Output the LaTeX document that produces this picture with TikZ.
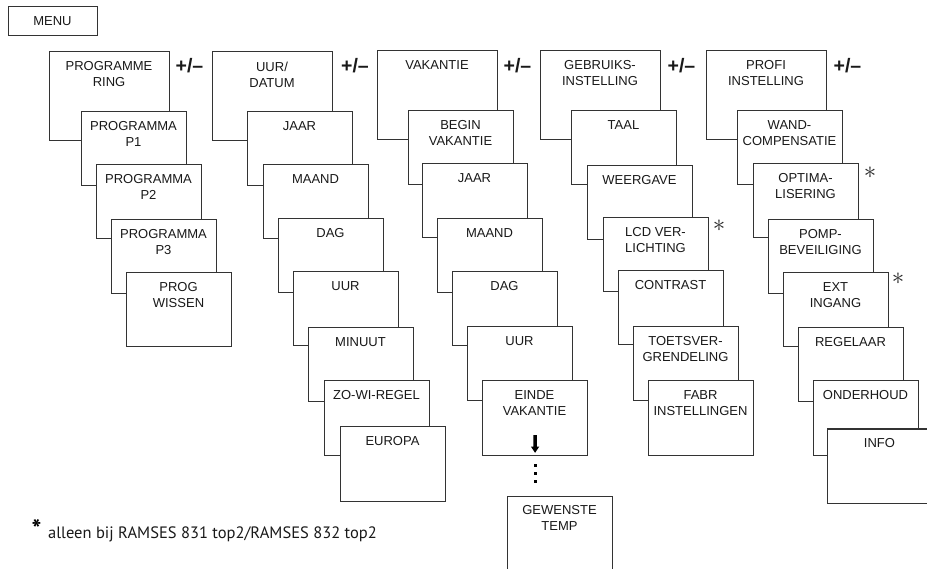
\documentclass[tikz,border=0pt]{standalone}
\usepackage{fontspec}
\setmainfont{Liberation Sans}
\newfontfamily\fnfont{PT Sans}
\usetikzlibrary{calc}
\tikzset{
  frame/.style={draw=black!80, line width=1pt, fill=white, anchor=north west, inner sep=0pt, outer sep=0pt},
  topb/.style={frame, minimum width=120pt, minimum height=89pt},
  subb/.style={frame, minimum width=105pt, minimum height=74pt},
  lbl/.style={inner sep=0pt, anchor=north, align=center, text=black!90, font=\fontsize{13}{16}\selectfont},
  pm/.style={inner sep=0pt, font=\fontsize{19.5}{20}\selectfont\bfseries, text=black!90},
  star/.style={inner sep=0pt, text=black!85, font=\fontsize{27}{27}\selectfont}
}
\newcommand\topbox[4]{\node[topb] (#1) at (#2,#3) {}; \node[lbl] (#1-t) at ([yshift=-9.4pt]#1.north) {#4};}
\newcommand\subbox[4]{\node[subb] (#1) at (#2,#3) {}; \node[lbl] (#1-t) at ([yshift=-9.4pt]#1.north) {#4};}
\begin{document}
\begin{tikzpicture}[x=1pt,y=-1pt]
\useasboundingbox (0,0) rectangle (927,569);
% MENU
\node[frame, minimum width=89pt, minimum height=29pt] (menu) at (8,6.5) {};
\node[inner sep=0pt, font=\fontsize{13}{16}\selectfont, text=black!90] (menu-t) at (menu.center) {MENU};
% column 1
\topbox{pr}{49}{52}{PROGRAMME\\RING}
\subbox{p1}{81}{112}{PROGRAMMA\\P1}
\subbox{p2}{96}{165}{PROGRAMMA\\P2}
\subbox{p3}{111}{220}{PROGRAMMA\\P3}
\subbox{pw}{126}{273}{PROG\\WISSEN}
\node[pm] (pm1) at (189.5,65.5) {+/--};
% column 2
\topbox{ud}{212}{52}{UUR/\\DATUM}
\subbox{jaar}{247}{112}{JAAR}
\subbox{maand}{263}{165}{MAAND}
\subbox{dag}{278}{219}{DAG}
\subbox{uur}{293}{272}{UUR}
\subbox{minuut}{308}{328}{MINUUT}
\subbox{zowi}{324}{381}{ZO-WI-REGEL}
\subbox{europa}{340}{427}{EUROPA}
\node[pm] (pm2) at (355,65.5) {+/--};
% column 3
\topbox{vak}{377}{51}{VAKANTIE}
\subbox{begin}{408}{111}{BEGIN\\VAKANTIE}
\subbox{jaarb}{422}{164}{JAAR}
\subbox{maandb}{437}{219}{MAAND}
\subbox{dagb}{452}{272}{DAG}
\subbox{uurb}{467}{327}{UUR}
\subbox{einde}{482}{381}{EINDE\\VAKANTIE}
\subbox{gew}{507}{496}{GEWENSTE\\TEMP}
\node[pm] (pm3) at (517.5,65.5) {+/--};
% arrow and dots
\fill[black] (533.3,435) -- (536.9,435) -- (536.9,446.5) -- (539.3,446.5) -- (535.1,452.8) -- (530.9,446.5) -- (533.3,446.5) -- cycle;
\foreach \yy in {465,473,481} {\fill[black] (533.6,\yy-1.5) rectangle (536.6,\yy+1.5);}
% column 4
\topbox{geb}{540}{51}{GEBRUIKS-\\INSTELLING}
\subbox{taal}{571}{111}{TAAL}
\subbox{weer}{587}{166}{WEERGAVE}
\subbox{lcd}{603}{218}{LCD VER-\\LICHTING}
\subbox{contrast}{618}{271}{CONTRAST}
\subbox{toets}{633}{327}{TOETSVER-\\GRENDELING}
\subbox{fabr}{648}{381}{FABR\\INSTELLINGEN}
\node[pm] (pm4) at (681.5,65.5) {+/--};
\node[star] (s1) at (719,225.5) {$\ast$};
% column 5
\topbox{profi}{706}{51}{PROFI\\INSTELLING}
\subbox{wand}{737}{111}{WAND-\\COMPENSATIE}
\subbox{opt}{753}{164}{OPTIMA-\\LISERING}
\subbox{pomp}{768}{220}{POMP-\\BEVEILIGING}
\subbox{ext}{783}{273}{EXT\\INGANG}
\subbox{reg}{798}{328}{REGELAAR}
\subbox{onder}{813}{381}{ONDERHOUD}
\subbox{info}{827}{429}{INFO}
\node[pm] (pm5) at (847.5,65.5) {+/--};
\node[star] (s2) at (870,172.5) {$\ast$};
\node[star] (s3) at (898,279) {$\ast$};
% footnote
\node[inner sep=0pt, anchor=base west, font=\fnfont\bfseries\fontsize{26}{26}\selectfont, text=black] (fs) at (31.5,538.3) {*};
\node[inner sep=0pt, anchor=base west, font=\fnfont\fontsize{16.5}{18}\selectfont, text=black!90] (fn) at (48,538.3) {alleen bij RAMSES 831 top2/RAMSES 832 top2};
\end{tikzpicture}
\end{document}
